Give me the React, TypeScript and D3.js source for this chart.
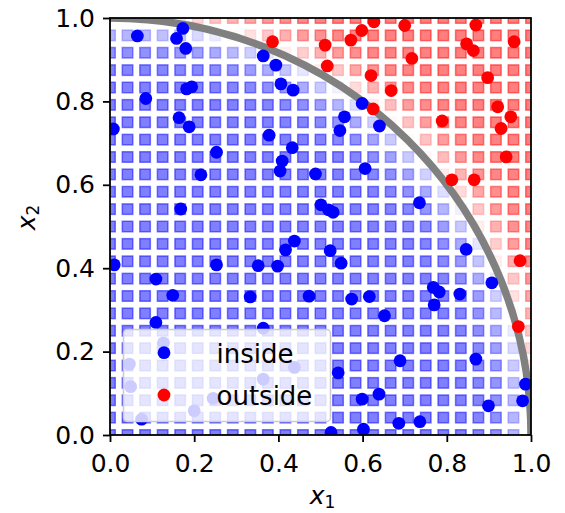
import React, { useEffect, useRef } from 'react';
import * as d3 from 'd3';

// sample points that fall inside the quarter circle
const insideX = [
  0.008, 0.065, 0.173, 0.158, 0.18, 0.085, 0.182, 0.194, 0.164, 0.188, 0.253, 0.364, 0.394, 0.406, 0.435,
  0.378, 0.433, 0.409, 0.404, 0.599, 0.557, 0.546, 0.64, 0.606, 0.488, 0.216, 0.168, 0.438, 0.417, 0.01,
  0.253, 0.352, 0.398, 0.109, 0.149, 0.333, 0.473, 0.735, 0.501, 0.519, 0.53, 0.846, 0.523, 0.549, 0.907,
  0.574, 0.616, 0.768, 0.782, 0.77, 0.831, 0.109, 0.364, 0.652, 0.689, 0.869, 0.542, 0.987, 0.98, 0.899,
  0.599, 0.639, 0.686, 0.736, 0.602, 0.525, 0.075, 0.127, 0.046, 0.438, 0.049, 0.364, 0.245, 0.2,
];
const insideY = [
  0.734, 0.957, 0.975, 0.951, 0.927, 0.807, 0.83, 0.835, 0.761, 0.739, 0.678, 0.909, 0.887, 0.842, 0.827,
  0.719, 0.689, 0.657, 0.633, 0.795, 0.763, 0.73, 0.741, 0.639, 0.626, 0.624, 0.542, 0.465, 0.444, 0.408,
  0.408, 0.406, 0.405, 0.374, 0.335, 0.331, 0.333, 0.557, 0.552, 0.54, 0.534, 0.445, 0.442, 0.412, 0.365,
  0.326, 0.332, 0.354, 0.343, 0.312, 0.338, 0.27, 0.256, 0.286, 0.178, 0.182, 0.149, 0.122, 0.082, 0.07,
  0.086, 0.098, 0.028, 0.032, 0.014, 0.006, 0.038, 0.221, 0.17, 0.162, 0.116, 0.134, 0.088, 0.058,
];

// sample points outside it
const outsideX = [
  0.386, 0.627, 0.7, 0.869, 0.598, 0.572, 0.511, 0.847, 0.863, 0.96, 0.717, 0.516, 0.62, 0.897, 0.668,
  0.921, 0.625, 0.952, 0.929, 0.789, 0.941, 0.812, 0.865, 0.974, 0.97,
];
const outsideY = [
  0.943, 0.991, 0.982, 0.983, 0.97, 0.947, 0.935, 0.938, 0.922, 0.943, 0.903, 0.885, 0.862, 0.857, 0.826,
  0.787, 0.782, 0.763, 0.735, 0.753, 0.667, 0.612, 0.612, 0.418, 0.26,
];

const tickValues = [0, 0.2, 0.4, 0.6, 0.8, 1.0];
const legendLabels = ['inside', 'outside'];
const legendColors = ['#0000ff', '#ff0000'];

// background grid: points per axis and how sharp the circle boundary is
const gridCount = 25;
const boundarySharpness = 32;

const App = () => {
  const svgRef = useRef<SVGSVGElement>(null);

  useEffect(() => {
    const svg = d3.select(svgRef.current);
    svg.selectAll('*').remove();

    const left = 110, right = 531, top = 18, bottom = 435;
    const font = "'DejaVu Sans', sans-serif";
    const x = d3.scaleLinear().domain([0, 1]).range([left, right]);
    const y = d3.scaleLinear().domain([0, 1]).range([bottom, top]);

    svg.append('defs').append('clipPath').attr('id', 'plot-clip')
      .append('rect')
      .attr('x', left).attr('y', top)
      .attr('width', right - left).attr('height', bottom - top);

    const plot = svg.append('g').attr('clip-path', 'url(#plot-clip)');

    // grid squares, blue -> white -> red
    const grid = d3.range(gridCount).map((i) => i / (gridCount - 1));
    const cells = grid.flatMap((gx) => grid.map((gy) => ({ gx, gy })));
    const bwr = d3.scaleLinear<string>().domain([0, 0.5, 1]).range(['#0000ff', '#ffffff', '#ff0000']);
    const cellColor = (c) => {
      const p = 1 / (1 + Math.exp(-boundarySharpness * (Math.hypot(c.gx, c.gy) - 1)));
      return bwr(p);
    };
    const side = 10.5;
    plot.selectAll('rect.cell')
      .data(cells)
      .join('rect')
      .attr('class', 'cell')
      .attr('x', (c) => x(c.gx) - side / 2)
      .attr('y', (c) => y(c.gy) - side / 2)
      .attr('width', side)
      .attr('height', side)
      .attr('fill', cellColor)
      .attr('fill-opacity', 0.5)
      .attr('stroke', cellColor)
      .attr('stroke-opacity', 0.5)
      .attr('stroke-width', 1.5);

    // quarter circle
    plot.append('ellipse')
      .attr('cx', x(0)).attr('cy', y(0))
      .attr('rx', x(1) - x(0)).attr('ry', y(0) - y(1))
      .attr('fill', 'none')
      .attr('stroke', '#808080')
      .attr('stroke-width', 7.5);

    const inside = insideX.map((v, i) => [v, insideY[i]]);
    const outside = outsideX.map((v, i) => [v, outsideY[i]]);
    plot.selectAll('circle.in')
      .data(inside)
      .join('circle')
      .attr('class', 'in')
      .attr('cx', (d) => x(d[0]))
      .attr('cy', (d) => y(d[1]))
      .attr('r', 6.4)
      .attr('fill', legendColors[0]);
    plot.selectAll('circle.out')
      .data(outside)
      .join('circle')
      .attr('class', 'out')
      .attr('cx', (d) => x(d[0]))
      .attr('cy', (d) => y(d[1]))
      .attr('r', 6.4)
      .attr('fill', legendColors[1]);

    // axes
    const xAxis = d3.axisBottom(x).tickValues(tickValues).tickFormat(d3.format('.1f'))
      .tickSize(7).tickSizeOuter(0).tickPadding(12);
    const yAxis = d3.axisLeft(y).tickValues(tickValues).tickFormat(d3.format('.1f'))
      .tickSize(7).tickSizeOuter(0).tickPadding(8);
    const gx = svg.append('g').attr('transform', `translate(0,${bottom})`).call(xAxis);
    const gy = svg.append('g').attr('transform', `translate(${left},0)`).call(yAxis);
    [gx, gy].forEach((g) => {
      g.select('.domain').remove();
      g.selectAll('line').attr('stroke', '#000').attr('stroke-width', 1.8);
      g.selectAll('text').attr('font-family', font).attr('font-size', 25).attr('fill', '#000');
    });

    // frame
    svg.append('rect')
      .attr('x', left).attr('y', top)
      .attr('width', right - left).attr('height', bottom - top)
      .attr('fill', 'none').attr('stroke', '#000').attr('stroke-width', 1.8);

    // axis labels
    const xl = svg.append('text')
      .attr('x', (left + right) / 2 + 2).attr('y', 504)
      .attr('text-anchor', 'middle')
      .attr('font-family', font).attr('font-size', 25);
    xl.append('tspan').attr('font-style', 'italic').text('x');
    xl.append('tspan').attr('font-size', 17).attr('dy', 4).text('1');

    const yl = svg.append('text')
      .attr('transform', `translate(35,${(top + bottom) / 2 - 9}) rotate(-90)`)
      .attr('text-anchor', 'middle')
      .attr('font-family', font).attr('font-size', 25);
    yl.append('tspan').attr('font-style', 'italic').text('x');
    yl.append('tspan').attr('font-size', 17).attr('dy', 4).text('2');

    // legend
    const lg = svg.append('g');
    lg.append('rect')
      .attr('x', 123.5).attr('y', 329.5)
      .attr('width', 207).attr('height', 92)
      .attr('rx', 4)
      .attr('fill', '#fff').attr('fill-opacity', 0.8)
      .attr('stroke', '#cccccc').attr('stroke-width', 1.5);
    legendLabels.forEach((label, i) => {
      lg.append('circle')
        .attr('cx', 164).attr('cy', 352.7 + i * 42.3)
        .attr('r', 6.4)
        .attr('fill', legendColors[i]);
      lg.append('text')
        .attr('x', 216.5).attr('y', 362.5 + i * 42.3)
        .attr('font-family', font).attr('font-size', 26)
        .attr('fill', '#000')
        .text(label);
    });
  }, []);

  return (
    <div className='root'>
      <svg ref={svgRef} width={565} height={513} style={{ position: 'absolute', left: 0, top: 0, background: '#fff' }} />
    </div>
  );
};

export default App;
